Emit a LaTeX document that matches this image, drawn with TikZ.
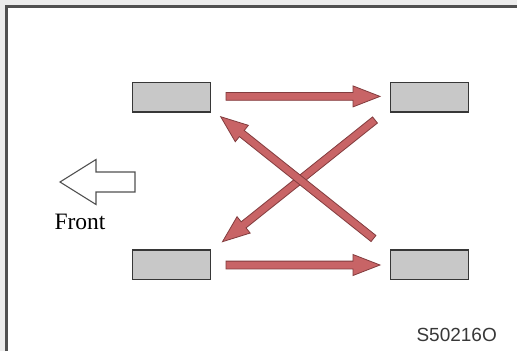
\documentclass[tikz,border=0pt]{standalone}
\usepackage{fontspec}
\setmainfont{Liberation Serif}
\setsansfont{Liberation Sans}
\usetikzlibrary{calc}
\definecolor{arrfill}{RGB}{200,100,102}
\definecolor{arrline}{RGB}{130,60,62}
\definecolor{padfill}{RGB}{200,200,200}
\definecolor{padline}{RGB}{55,55,55}
\definecolor{framecol}{RGB}{80,80,80}
\definecolor{outbg}{RGB}{236,236,236}
\tikzset{
  pad/.style={draw=padline, fill=padfill, line width=1.2pt, minimum width=78pt, minimum height=29.5pt, inner sep=0pt, outer sep=0pt},
  fatarrow/.style={draw=arrline, fill=arrfill, line width=0.8pt, line join=miter},
  frontarrow/.style={draw=framecol, fill=white, line width=1.1pt, line join=miter},
}
\newcommand{\fatarr}[2]{%
  \coordinate (h#1) at ($(#2)!27pt!(#1)$);
  \draw[fatarrow] ($(#1)!3.9pt!90:(#2)$) -- ($(h#1)!3.9pt!90:(#2)$) -- ($(h#1)!10.5pt!90:(#2)$) -- (#2) -- ($(h#1)!10.5pt!-90:(#2)$) -- ($(h#1)!3.9pt!-90:(#2)$) -- ($(#1)!3.9pt!-90:(#2)$) -- cycle;
}
\begin{document}
\begin{tikzpicture}[x=1pt,y=-1pt]
\useasboundingbox (0,0) rectangle (517,351);
\fill[outbg] (0,0) rectangle (517,351);
\fill[white] (6.5,6.5) rectangle (517,351);
\draw[framecol, line width=2.6pt] (6.5,351) -- (6.5,6.5) -- (517,6.5);
% pads
\node[pad] (tl) at (171.7,97.3) {};
\node[pad] (tr) at (429.3,97.3) {};
\node[pad] (bl) at (171.7,264.7) {};
\node[pad] (br) at (429.3,264.7) {};
% arrow endpoints
\coordinate (a1) at (226,96.4);
\coordinate (b1) at (380,96.4);
\coordinate (a2) at (226,265);
\coordinate (b2) at (380,265);
\coordinate (a3) at (375,120);
\coordinate (b3) at (222.5,241.7);
\coordinate (a4) at (373.5,238.5);
\coordinate (b4) at (220.7,116.7);
\fatarr{a1}{b1}
\fatarr{a2}{b2}
\fatarr{a3}{b3}
\fatarr{a4}{b4}
% front arrow
\draw[frontarrow] (60,182) -- (96,159.5) -- (96,172) -- (135,172) -- (135,192) -- (96,192) -- (96,204.5) -- cycle;
\node[anchor=base west, inner sep=0pt, font=\fontsize{23.5}{26}\selectfont] (front) at (54.3,229.3) {Front};
\node[anchor=base east, inner sep=0pt, text=black!78, font=\sffamily\fontsize{19}{22}\selectfont] (code) at (497,341) {S50216O};
\end{tikzpicture}
\end{document}
